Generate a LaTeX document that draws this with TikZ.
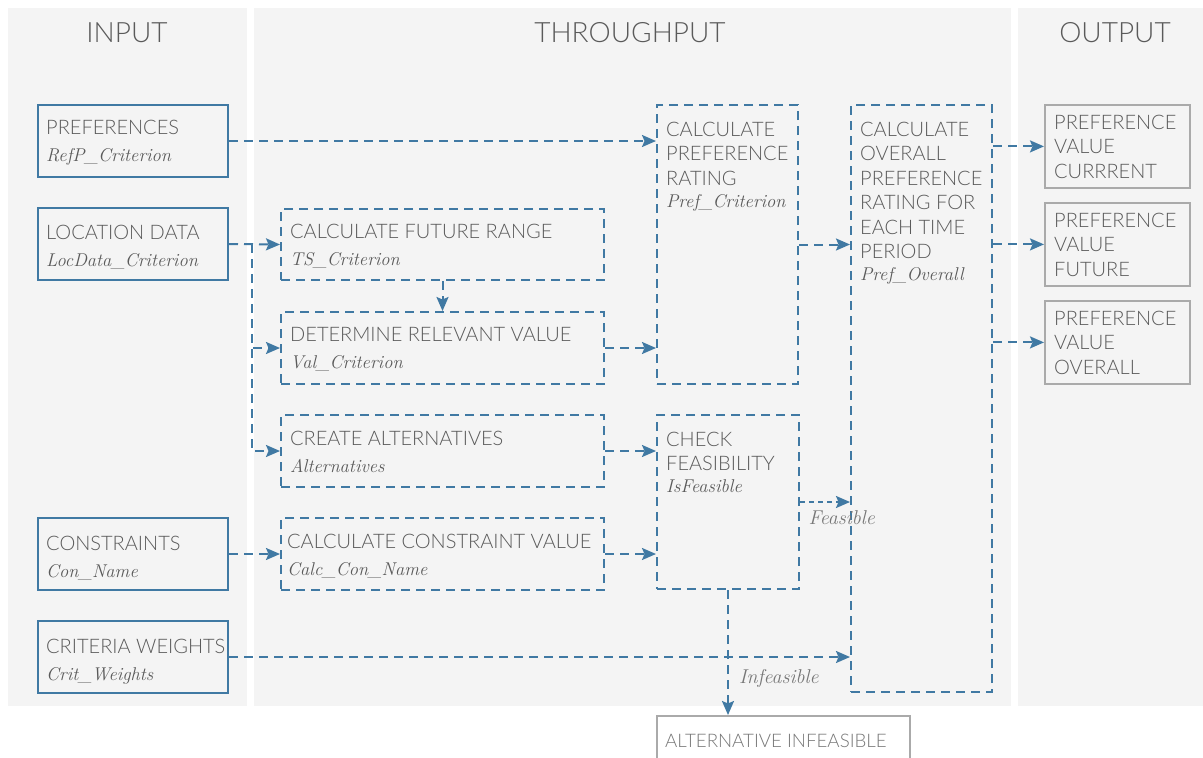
\documentclass[tikz,border=0pt]{standalone}
\usepackage{fontspec}
\setmainfont{Lato Light}
\usetikzlibrary{arrows.meta,calc}
\definecolor{pblue}{HTML}{4079A3}
\definecolor{panelc}{HTML}{F4F4F4}
\definecolor{txt}{HTML}{5A5A5A}
\definecolor{ltxt}{HTML}{777777}
\definecolor{ogray}{HTML}{AAAAAA}
\newcommand\lbl[1]{{\fontfamily{lmr}\fontsize{18.5}{24.5}\selectfont\itshape #1}}
\newcommand\blbl[1]{{\fontfamily{lmr}\fontsize{20}{24.5}\selectfont\itshape #1}}
\begin{document}
\begin{tikzpicture}[x=1pt,y=-1pt,
  panel/.style={fill=panelc},
  title/.style={font=\fontsize{28}{30}\selectfont, text=txt, anchor=center, inner sep=0},
  inbox/.style={draw=pblue, line width=2pt, anchor=north west, inner sep=0pt},
  dbox/.style={draw=pblue, line width=2pt, dash pattern=on 9pt off 6pt, anchor=north west, inner sep=0pt},
  obox/.style={draw=ogray, line width=1.8pt, anchor=north west, inner sep=0pt},
  txtn/.style={anchor=north west, inner sep=0pt, align=left, text=txt, font=\fontsize{20}{24.5}\selectfont},
  lab/.style={anchor=base west, inner sep=0pt, text=ltxt},
  flow/.style={draw=pblue, line width=2pt, dash pattern=on 9pt off 6pt, -{Stealth[length=14pt,width=12pt,inset=2.5pt]}}
]
\useasboundingbox (0,0) rectangle (1203,758);
\fill[white] (0,0) rectangle (1203,758);
% panels
\fill[panel] (8,8) rectangle (247,706);
\fill[panel] (254,8) rectangle (1011,706);
\fill[panel] (1018,8) rectangle (1203,706);
\node[title] (tin) at (127,33) {INPUT};
\node[title] (tthr) at (630,33) {THROUGHPUT};
\node[title] (tout) at (1115,33) {OUTPUT};

% input boxes
\node[inbox, minimum width=190pt, minimum height=72pt] (pref) at (37,104) {};
\node[inbox, minimum width=190pt, minimum height=72pt] (loc) at (37,207) {};
\node[inbox, minimum width=190pt, minimum height=72pt] (con) at (37,517) {};
\node[inbox, minimum width=190pt, minimum height=72pt] (crit) at (37,620) {};
\node[txtn] (prefT) at (46,119.5) {PREFERENCES\\[2.5pt]\lbl{RefP\_Criterion}};
\node[txtn] (locT) at (46,224.5) {LOCATION DATA\\[2.5pt]\lbl{LocData\_Criterion}};
\node[txtn] (conT) at (46,535.5) {CONSTRAINTS\\[2.5pt]\lbl{Con\_Name}};
\node[txtn] (critT) at (46,638.5) {CRITERIA WEIGHTS\\[2.5pt]\lbl{Crit\_Weights}};

% throughput boxes
\node[dbox, minimum width=323pt, minimum height=71pt] (fut) at (280,208) {};
\node[dbox, minimum width=323pt, minimum height=72pt] (det) at (280,311) {};
\node[dbox, minimum width=323pt, minimum height=72pt] (alt) at (280,414) {};
\node[dbox, minimum width=323pt, minimum height=72pt] (ccv) at (280,517) {};
\node[dbox, minimum width=141pt, minimum height=279pt] (cpr) at (656,104) {};
\node[dbox, minimum width=142pt, minimum height=174pt] (chk) at (656,414) {};
\node[dbox, minimum width=141pt, minimum height=587pt] (ovr) at (850,104) {};
\node[txtn] (futT) at (290,223.5) {CALCULATE FUTURE RANGE\\[2.5pt]\lbl{TS\_Criterion}};
\node[txtn] (detT) at (290,327.5) {DETERMINE RELEVANT VALUE\\[2.5pt]\lbl{Val\_Criterion}};
\node[txtn] (altT) at (290,430.5) {CREATE ALTERNATIVES\\[2.5pt]\lbl{Alternatives}};
\node[txtn] (ccvT) at (287,533.5) {CALCULATE CONSTRAINT VALUE\\[2.5pt]\lbl{Calc\_Con\_Name}};
\node[txtn] (cprT) at (666,121.5) {CALCULATE\\PREFERENCE\\RATING\\[-2.5pt]\lbl{Pref\_Criterion}};
\node[txtn] (chkT) at (666,431.5) {CHECK\\FEASIBILITY\\[-2.5pt]\lbl{IsFeasible}};
\node[txtn] (ovrT) at (860,121.5) {CALCULATE\\OVERALL\\PREFERENCE\\RATING FOR\\EACH TIME\\PERIOD\\[-2.5pt]\lbl{Pref\_Overall}};

% output boxes
\node[obox, minimum width=145pt, minimum height=83pt] (o1) at (1044,104) {};
\node[obox, minimum width=145pt, minimum height=83pt] (o2) at (1044,202) {};
\node[obox, minimum width=145pt, minimum height=83pt] (o3) at (1044,300) {};
\node[txtn] (o1T) at (1054,114.5) {PREFERENCE\\VALUE\\CURRRENT};
\node[txtn] (o2T) at (1054,212.5) {PREFERENCE\\VALUE\\FUTURE};
\node[txtn] (o3T) at (1054,310.5) {PREFERENCE\\VALUE\\OVERALL};
\node[obox, minimum width=253pt, minimum height=60pt] (inf) at (656,715) {};
\node[txtn, anchor=base west, text=ltxt, font=\fontsize{18.7}{20}\selectfont] (infT) at (665,747) {ALTERNATIVE INFEASIBLE};

% connectors
\coordinate (split) at ($(loc.east)+(23,0)$);
\draw[flow] (pref.east) -- (pref.east -| cpr.west);
\draw[flow] (loc.east) -- (fut.west);
\draw[flow] (split) |- (det.west);
\draw[flow] (split) |- (alt.west);
\draw[flow] (fut.south) -- (det.north);
\draw[flow] (det.east) -- (det.east -| cpr.west);
\draw[flow] (alt.east) -- (alt.east -| chk.west);
\draw[flow] (con.east) -- (ccv.west);
\draw[flow] (ccv.east) -- (ccv.east -| chk.west);
\draw[flow] (cpr.east) -- (cpr.east -| ovr.west);
\draw[flow, dash pattern=on 5pt off 4pt] (chk.east) -- (chk.east -| ovr.west) node[lab, pos=0.15, yshift=-22pt] (feasL) {\blbl{Feasible}};
\draw[flow] (crit.east) -- (crit.east -| ovr.west);
\draw[flow] (chk.south) -- (chk.south |- inf.north) node[lab, pos=0.75, xshift=10pt] (infL) {\blbl{Infeasible}};
\draw[flow] (ovr.east |- o1.west) -- (o1.west);
\draw[flow] (ovr.east |- o2.west) -- (o2.west);
\draw[flow] (ovr.east |- o3.west) -- (o3.west);
\end{tikzpicture}
\end{document}
